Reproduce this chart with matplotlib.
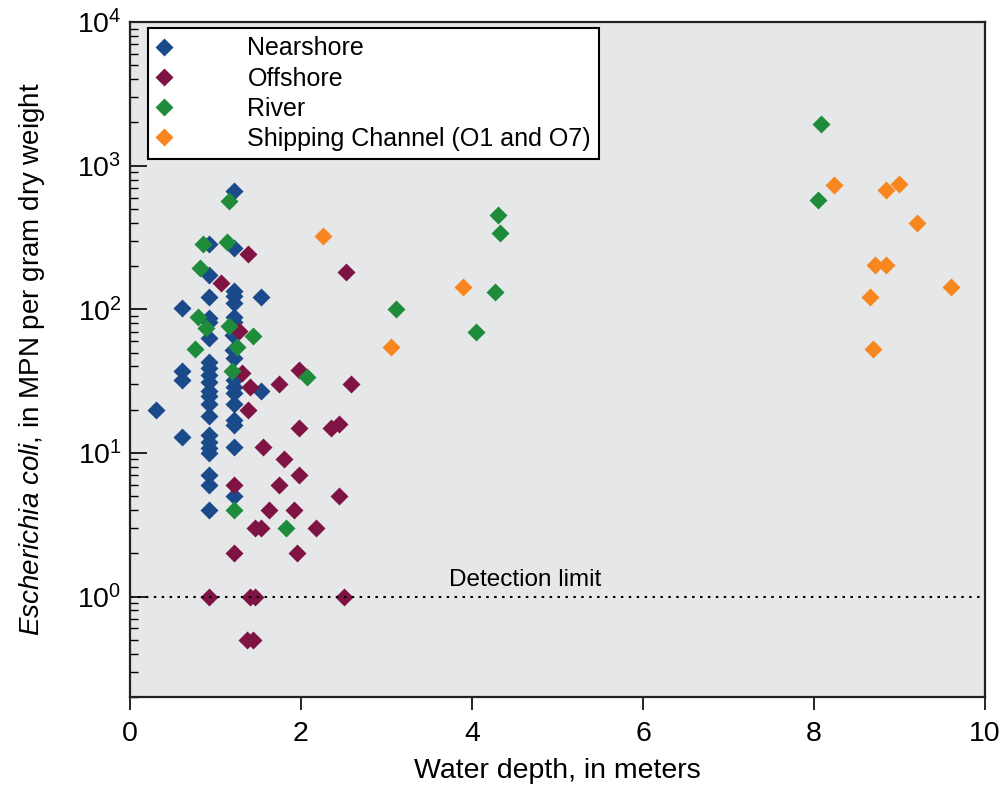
import numpy as np
import matplotlib
matplotlib.use("Agg")
import matplotlib.pyplot as plt
from matplotlib.ticker import LogLocator, NullFormatter

plt.rcParams['font.family'] = ['Liberation Sans', 'DejaVu Sans']
plt.rcParams['mathtext.fontset'] = 'custom'
plt.rcParams['mathtext.rm'] = 'Liberation Sans'
plt.rcParams['mathtext.it'] = 'Liberation Sans:italic'

# water depth (m) and E. coli (MPN per gram dry weight)
near_depth = [0.31, 0.61, 0.61, 0.61, 0.61,
              0.92, 0.92, 0.92, 0.92, 0.92, 0.92, 0.92, 0.92, 0.92, 0.92, 0.92,
              0.92, 0.92, 0.92, 0.92, 0.92, 0.92, 0.92, 0.92, 0.92, 0.92,
              1.22, 1.22, 1.22, 1.22, 1.22, 1.22, 1.22, 1.21, 1.21, 1.22, 1.22,
              1.22, 1.22, 1.22, 1.22, 1.22, 1.22, 1.22,
              1.53, 1.53]
near_ecoli = [20, 102, 37, 32, 13,
              286, 173, 122, 87, 81, 63, 43, 39, 35, 31, 27,
              25, 22, 18, 13.4, 12, 10.8, 10, 7, 6, 4,
              670, 265, 135, 123, 111, 89, 82, 66, 52, 46, 32,
              29, 26, 22, 17, 15.7, 11, 5,
              122, 27]

off_depth = [1.07, 1.38, 1.28, 1.31, 1.98, 1.40, 1.74, 1.38, 1.98, 2.35, 2.44,
             1.56, 1.80, 1.98, 1.22, 1.74, 2.44, 1.62, 1.92, 1.46, 1.53, 2.17,
             1.22, 1.95, 0.92, 1.40, 1.46, 2.50, 1.37, 1.44, 2.53, 2.59]
off_ecoli = [152, 243, 71, 36, 38, 29, 30, 20, 15, 15, 16,
             11, 9, 7, 6, 6, 5, 4, 4, 3, 3, 3,
             2, 2, 1, 1, 1, 1, 0.5, 0.5, 183, 30]

river_depth = [1.16, 0.85, 1.13, 0.82, 0.80, 0.89, 1.16, 1.44, 0.76, 1.25, 1.19,
               2.07, 1.22, 1.83, 3.11, 4.30, 4.33, 4.27, 4.05, 8.08, 8.05]
river_ecoli = [571, 286, 296, 194, 88, 74, 76, 65, 53, 55, 37,
               34, 4, 3, 101, 450, 337, 132, 69, 1950, 575]

ship_depth = [2.26, 3.05, 3.90, 8.23, 8.84, 8.99, 9.20, 8.71, 8.84, 9.60, 8.65, 8.69]
ship_ecoli = [326, 55, 143, 738, 678, 747, 398, 204, 204, 142, 122, 53]

detection_limit = 1.0

fig = plt.figure(figsize=(10.06, 7.94), dpi=100)
ax = fig.add_axes([0.1292, 0.1222, 0.8500, 0.8501])
ax.set_facecolor('#e6e7e8')

ms = 9
ax.plot(near_depth, near_ecoli, 'D', ms=ms, color='#1b4a8a', mec='none', label='Nearshore')
ax.plot(off_depth, off_ecoli, 'D', ms=ms, color='#7f1444', mec='none', label='Offshore')
ax.plot(river_depth, river_ecoli, 'D', ms=ms, color='#1f8c3b', mec='none', label='River')
ax.plot(ship_depth, ship_ecoli, 'D', ms=ms, color='#f7861f', mec='none',
        label='Shipping Channel (O1 and O7)')

ax.axhline(detection_limit, color='black', ls=(0, (1.2, 2.6)), lw=1.5)
ax.text(4.62, 1.1, 'Detection limit', ha='center', va='bottom', fontsize=17.5)

ax.set_yscale('log')
ax.set_xlim(0, 10)
ax.set_ylim(0.2, 1e4)
ax.set_xticks([0, 2, 4, 6, 8, 10])
ax.yaxis.set_minor_locator(LogLocator(base=10, subs=np.arange(2, 10)))
ax.yaxis.set_minor_formatter(NullFormatter())

ax.tick_params(axis='x', direction='out', length=9, width=1.2, labelsize=20.5, pad=8)
ax.tick_params(axis='y', which='major', direction='in', length=12, width=1.2,
               labelsize=20.5, pad=6)
ax.tick_params(axis='y', which='minor', direction='in', length=6, width=1.0)
ax.tick_params(axis='x', which='minor', bottom=False)

for s in ax.spines.values():
    s.set_linewidth(1.6)
    s.set_color('#222222')

ax.set_xlabel('Water depth, in meters', fontsize=20.5, labelpad=8)
ax.set_ylabel(r'$\it{Escherichia\ coli}$, in MPN per gram dry weight', fontsize=20,
              labelpad=22)

leg = ax.legend(loc='upper left', bbox_to_anchor=(0.021, 0.991), fontsize=18,
                frameon=True, fancybox=False, edgecolor='black', facecolor='white',
                framealpha=1, handletextpad=3.05, borderpad=0.33, labelspacing=0.25,
                handlelength=0.6, borderaxespad=0)
leg.get_frame().set_linewidth(1.5)

fig.savefig('out.png', dpi=100)
